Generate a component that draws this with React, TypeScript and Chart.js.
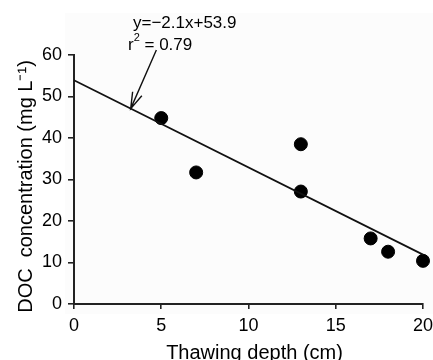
import React, { useEffect, useRef } from "react";
import { Chart, registerables } from "chart.js";

Chart.register(...registerables);

const depthCm = [5, 7, 13, 13, 17, 18, 20];
const docMgL = [44.8, 31.7, 38.5, 27.1, 15.8, 12.6, 10.4];
const fitSlope = -2.1;
const fitIntercept = 53.9;
const fitRange = [0, 20];
const xTicks = [0, 5, 10, 15, 20];
const yTicks = [0, 10, 20, 30, 40, 50, 60];
const equationText = "y=\u22122.1x+53.9";
const r2Text = "= 0.79";
const xTitle = "Thawing depth (cm)";
const yTitle = "DOC  concentration (mg L\u207B\u00B9)";
const arrowTail = { x: 4.72, y: 61.2 };
const arrowTipX = 3.25;

const FONT = "'Liberation Sans', Arial, sans-serif";

export default function App() {
  const ref = useRef<HTMLCanvasElement | null>(null);

  useEffect(() => {
    document.body.style.margin = "0";
    const canvas = ref.current!;
    const annot = {
      id: "annot",
      beforeDraw(chart: any) {
        const { ctx, chartArea } = chart;
        ctx.save();
        ctx.fillStyle = "#fcfcfc";
        ctx.fillRect(chartArea.left - 9, chartArea.top - 42, chart.width, chartArea.bottom - chartArea.top + 52);
        ctx.restore();
      },
      afterDraw(chart: any) {
        const { ctx, scales, chartArea } = chart;
        const xs = scales.x, ys = scales.y;
        ctx.save();
        ctx.fillStyle = "#000";
        ctx.textBaseline = "alphabetic";
        ctx.textAlign = "left";
        // equation
        ctx.font = `17px ${FONT}`;
        ctx.fillText(equationText, chartArea.left + 59, 28);
        // r^2 line
        const rx = chartArea.left + 54;
        ctx.fillText("r", rx, 50);
        const rw = ctx.measureText("r").width;
        ctx.font = `11px ${FONT}`;
        ctx.fillText("2", rx + rw, 41);
        const sw = ctx.measureText("2").width;
        ctx.font = `17px ${FONT}`;
        ctx.fillText(" " + r2Text, rx + rw + sw, 50);
        // arrow
        const tx = xs.getPixelForValue(arrowTail.x);
        const ty = ys.getPixelForValue(arrowTail.y);
        const hx = xs.getPixelForValue(arrowTipX);
        const hy = ys.getPixelForValue(fitIntercept + fitSlope * arrowTipX);
        ctx.strokeStyle = "#111";
        ctx.lineWidth = 1.4;
        ctx.beginPath();
        ctx.moveTo(tx, ty);
        ctx.lineTo(hx, hy);
        const ang = Math.atan2(hy - ty, hx - tx);
        const L = 17, a = 0.3;
        ctx.moveTo(hx - L * Math.cos(ang - a), hy - L * Math.sin(ang - a));
        ctx.lineTo(hx, hy);
        ctx.lineTo(hx - L * Math.cos(ang + a), hy - L * Math.sin(ang + a));
        ctx.stroke();
        // axis titles
        ctx.fillStyle = "#000";
        ctx.font = `20px ${FONT}`;
        ctx.textAlign = "center";
        ctx.textBaseline = "alphabetic";
        ctx.fillText(xTitle, (chartArea.left + chartArea.right) / 2 + 6, chartArea.bottom + 55);
        ctx.translate(32, (chartArea.top + chartArea.bottom) / 2 + 7);
        ctx.rotate(-Math.PI / 2);
        ctx.fillText(yTitle, 0, 0);
        ctx.restore();
      },
    };

    const chart = new Chart(canvas, {
      type: "scatter",
      data: {
        datasets: [
          {
            type: "line",
            data: fitRange.map((x) => ({ x, y: fitIntercept + fitSlope * x })),
            borderColor: "#111",
            borderWidth: 1.7,
            pointRadius: 0,
            fill: false,
            clip: false,
          },
          {
            type: "scatter",
            data: depthCm.map((x, i) => ({ x, y: docMgL[i] })),
            backgroundColor: "#000",
            borderColor: "#000",
            pointRadius: 6.5,
            pointHoverRadius: 6.5,
            clip: false,
          },
        ],
      },
      options: {
        responsive: false,
        animation: false,
        events: [],
        layout: { padding: { top: 55, right: 10, left: 0, bottom: 0 } },
        plugins: { legend: { display: false }, tooltip: { enabled: false } },
        scales: {
          x: {
            type: "linear",
            min: 0,
            max: 20,
            afterBuildTicks: (s: any) => {
              s.ticks = xTicks.map((v) => ({ value: v }));
            },
            afterFit: (s: any) => {
              s.height = 56;
              s.paddingLeft = 0;
              s.paddingRight = 0;
            },
            grid: { drawOnChartArea: false, tickLength: 5, color: "#222", lineWidth: 1.6 },
            border: { color: "#222", width: 2 },
            ticks: { color: "#000", font: { family: FONT, size: 18 }, padding: 6, maxRotation: 0 },
          },
          y: {
            type: "linear",
            min: 0,
            max: 60,
            afterBuildTicks: (s: any) => {
              s.ticks = yTicks.map((v) => ({ value: v }));
            },
            afterFit: (s: any) => {
              s.width = 74;
              s.paddingTop = 0;
              s.paddingBottom = 0;
            },
            grid: { drawOnChartArea: false, tickLength: 6, color: "#222", lineWidth: 1.6 },
            border: { color: "#222", width: 2 },
            ticks: { color: "#000", font: { family: FONT, size: 18 }, padding: 6 },
          },
        },
      },
      plugins: [annot],
    } as any);
    return () => chart.destroy();
  }, []);

  return (
    <div style={{ position: "absolute", left: 0, top: 0, width: 433, height: 360, background: "#fff" }}>
      <canvas ref={ref} width={433} height={360} style={{ width: 433, height: 360 }} />
    </div>
  );
}
